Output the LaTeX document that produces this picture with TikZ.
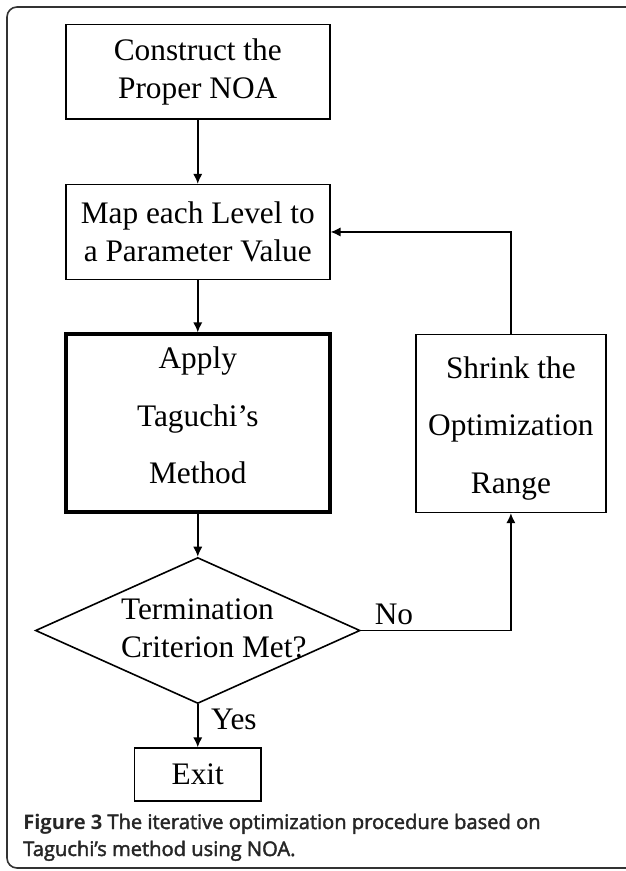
\documentclass[tikz,border=0pt]{standalone}
\usepackage{fontspec}
\setmainfont{Liberation Serif}
\newfontfamily\capfont{Open Sans}
\newfontfamily\capsemi[FakeBold=2]{Open Sans}
\usetikzlibrary{matrix,shapes.geometric,arrows.meta}

\begin{document}
\begin{tikzpicture}[x=0.75pt, y=-0.75pt,
                    >={Latex[length=7.5pt,width=7pt]},
                    font=\fontsize{23.5}{28.5}\selectfont,
                    block/.style={draw, rectangle, align=center, line width=1.2pt, inner sep=0pt, minimum width=198pt, minimum height=71pt},
                    tall/.style={block, font=\fontsize{23.5}{43}\selectfont, minimum height=133.5pt},
                    decide/.style={draw, diamond, line width=1.2pt, inner sep=0pt, minimum width=243.5pt, minimum height=109.5pt},
                    ra/.style={->, line width=1.2pt}]

\useasboundingbox (0,0) rectangle (625,871);
\draw [line width=1.2pt, black!80, rounded corners=7.5pt] (7,7) rectangle (660,868);

\matrix[inner sep=0pt, matrix anchor=north west, column sep=40.9pt] at (34.7,23.3) {

\node [block] (noa) {Construct the\\Proper NOA}; & \\[48pt]

\node [block] (map) {Map each Level to\\a Parameter Value}; & \\[39.2pt]

\node [tall, line width=3pt] (apply) {Apply\\Taguchi’s\\Method\rule[-12pt]{0pt}{0pt}}; &
\node [tall, minimum width=142.5pt] (shrink) {\rule{0pt}{24pt}Shrink the\\Optimization\\Range}; \\[32pt]

\node [decide] (term) {\makebox[0pt]{\hspace*{24pt}\begin{tabular}{@{}l@{}}Termination\\Criterion Met?\end{tabular}}}; & \\[32.5pt]

\node [block, minimum width=95pt, minimum height=39.5pt] (exit) {Exit}; & \\};

\draw [ra] (noa) -- (map);
\draw [ra] (map) -- (apply);
\draw [ra] (apply) -- (term);
\draw [ra] (term) -- node[pos=0.35, right, xshift=6pt] {Yes} (exit);
\draw [ra] (term) -| node[pos=0.11, above] {No} (shrink);
\draw [ra] (shrink) |- (map);

\node [anchor=base west, align=left, inner sep=0pt, text=black!85,
       font=\fontsize{15.1}{20.25}\selectfont] (cap) at (23,856)
      {{\capfont\bfseries Figure 3} {\capsemi The iterative optimization procedure based on}\\
       {\capsemi Taguchi’s method using NOA.}};
\end{tikzpicture}
\end{document}
